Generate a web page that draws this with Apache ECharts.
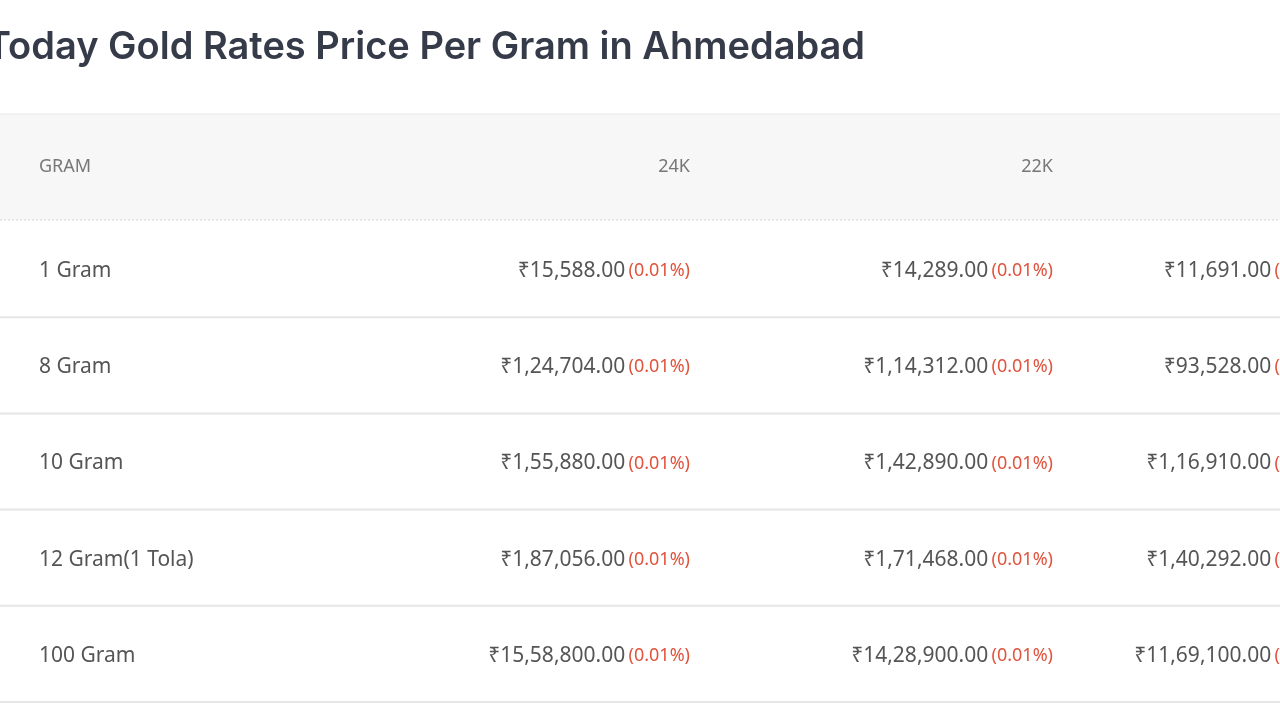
<!DOCTYPE html>
<html>
<head>
<meta charset="utf-8">
<script src="https://cdn.jsdelivr.net/npm/echarts@6/dist/echarts.min.js"></script>
<style>html,body{margin:0;padding:0;background:#fff}#main{width:1280px;height:720px}</style>
</head>
<body>
<div id="main"></div>
<script>
var titleText = 'Today Gold Rates Price Per Gram in Ahmedabad';
var headers = ['GRAM', '24K', '22K', '18K'];
var rows = ['1 Gram', '8 Gram', '10 Gram', '12 Gram(1 Tola)', '100 Gram'];
var price24 = [15588, 124704, 155880, 187056, 1558800];
var price22 = [14289, 114312, 142890, 171468, 1428900];
var price18 = [11691, 93528, 116910, 140292, 1169100];
var change = ['0.01%', '0.01%', '0.01%', '0.01%', '0.01%'];

// 列右边界位置（第一列为左边界）
var colX = [39, 690, 1053, 1336];
var font = '"Noto Sans", sans-serif';

// 印度格式 1,24,704.00
function inr(v) {
	var s = String(Math.floor(v));
	var last = s.slice(-3), rest = s.slice(0, -3);
	if (rest) last = ',' + last;
	rest = rest.replace(/\B(?=(\d{2})+(?!\d))/g, ',');
	return '₹' + rest + last + '.00';
}

var cells = [];
rows.forEach(function(r, i) {
	cells.push([0, i, r, '']);
	cells.push([1, i, inr(price24[i]), change[i]]);
	cells.push([2, i, inr(price22[i]), change[i]]);
	cells.push([3, i, inr(price18[i]), change[i]]);
});

var chart = echarts.init(document.getElementById('main'));
chart.setOption({
	animation: false,
	grid: { left: 0, right: 0, top: 221, bottom: 18 },
	xAxis: { type: 'value', min: 0, max: 3, show: false },
	yAxis: { type: 'category', data: rows, inverse: true, show: false },
	graphic: [
		{ type: 'rect', shape: { x: 0, y: 114, width: 1280, height: 106 }, style: { fill: '#f7f7f7' } },
		{ type: 'line', shape: { x1: 0, y1: 114, x2: 1280, y2: 114 }, style: { stroke: '#e8e8e8', lineWidth: 1 } },
		{ type: 'line', shape: { x1: 0, y1: 220, x2: 1280, y2: 220 }, style: { stroke: '#d8d8d8', lineWidth: 1, lineDash: [2, 2] } },
		{ type: 'text', x: -14, y: 48, style: { text: titleText, font: '600 38px Inter, sans-serif', fill: '#363b4a', textVerticalAlign: 'middle' } }
	].concat(headers.map(function(h, j) {
		return { type: 'text', x: colX[j], y: 167, style: { text: h, font: '18px ' + font, fill: '#777', textAlign: j ? 'right' : 'left', textVerticalAlign: 'middle' } };
	})),
	series: [{
		type: 'custom',
		data: cells,
		renderItem: function(params, api) {
			var col = api.value(0), row = api.value(1);
			var cy = api.coord([0, row])[1] + 2;
			var band = api.size([0, 1])[1];
			var d = cells[params.dataIndex];
			var children = [];
			if (col === 0) {
				children.push({ type: 'line', shape: { x1: 0, y1: cy - 2 + band / 2, x2: 1280, y2: cy - 2 + band / 2 }, style: { stroke: '#e6e6e6', lineWidth: 2 } });
				children.push({ type: 'text', x: colX[0], y: cy, style: { text: d[2], font: '21px ' + font, fill: '#555', textAlign: 'left', textVerticalAlign: 'middle' } });
			} else {
				children.push({ type: 'text', x: colX[col], y: cy, style: {
					text: '{p|' + d[2] + '} {c|(' + d[3] + ')}',
					textAlign: 'right', textVerticalAlign: 'middle',
					rich: {
						p: { font: '21px ' + font, fill: '#555' },
						c: { font: '18px ' + font, fill: '#e0533d' }
					}
				} });
			}
			return { type: 'group', children: children };
		}
	}]
});
</script>
</body>
</html>
